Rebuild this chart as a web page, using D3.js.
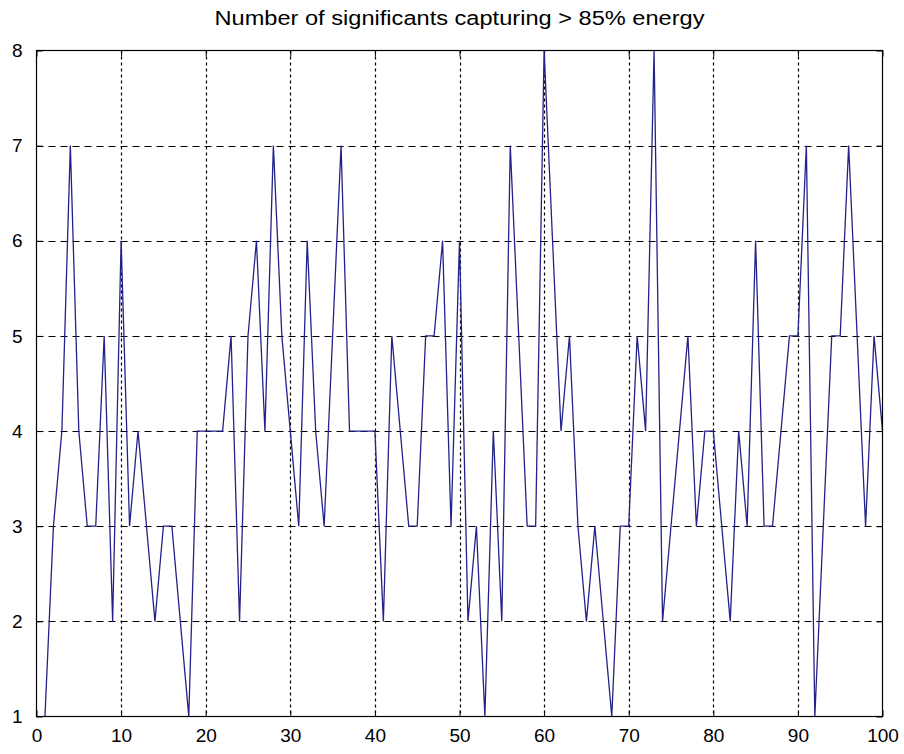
<!DOCTYPE html>
<html>
<head>
<meta charset="utf-8">
<script src="https://cdn.jsdelivr.net/npm/d3@7"></script>
<style>
  html, body { margin: 0; padding: 0; background: #ffffff; }
  svg { display: block; }
</style>
</head>
<body>
<svg id="chart" width="904" height="754"></svg>
<script>
// ---- data ----
const titleText = "Number of significants capturing > 85% energy";
const xValues = d3.range(1, 101);
const counts = [
  1, 3, 4, 7, 4, 3, 3, 5, 2, 6,
  3, 4, 3, 2, 3, 3, 2, 1, 4, 4,
  4, 4, 5, 2, 5, 6, 4, 7, 5, 4,
  3, 6, 4, 3, 5, 7, 4, 4, 4, 4,
  2, 5, 4, 3, 3, 5, 5, 6, 3, 6,
  2, 3, 1, 4, 2, 7, 5, 3, 3, 8,
  6, 4, 5, 3, 2, 3, 2, 1, 3, 3,
  5, 4, 8, 2, 3, 4, 5, 3, 4, 4,
  3, 2, 4, 3, 6, 3, 3, 4, 5, 5,
  7, 1, 3, 5, 5, 7, 5, 3, 5, 4
];
const xTicks = [0, 10, 20, 30, 40, 50, 60, 70, 80, 90, 100];
const yTicks = [1, 2, 3, 4, 5, 6, 7, 8];

// ---- layout ----
const svg = d3.select("#chart");
const pL = 36.5, pR = 882.5, pT = 50.5, pB = 716.5;
const x = d3.scaleLinear().domain([0, 100]).range([pL, pR]);
const y = d3.scaleLinear().domain([1, 8]).range([pB, pT]);
const font = "'Liberation Sans', Arial, sans-serif";

svg.append("rect").attr("width", 904).attr("height", 754).attr("fill", "#ffffff");

// grid
const grid = svg.append("g");
grid.selectAll("line.vg").data(xTicks.slice(1, -1)).join("line")
  .attr("x1", d => Math.round(x(d)) + 0.5).attr("x2", d => Math.round(x(d)) + 0.5)
  .attr("y1", pT).attr("y2", pB)
  .attr("stroke", "#000").attr("stroke-width", 1.2).attr("stroke-dasharray", "3,3");
grid.selectAll("line.hg").data(yTicks.slice(1, -1)).join("line")
  .attr("x1", pL).attr("x2", pR)
  .attr("y1", d => Math.round(y(d)) + 0.5).attr("y2", d => Math.round(y(d)) + 0.5)
  .attr("stroke", "#000").attr("stroke-width", 1.2).attr("stroke-dasharray", "7,5");

// axes (MATLAB-like: ticks inside, box)
const tickLen = 6;
const xAxisB = d3.axisBottom(x).tickValues(xTicks).tickFormat(d3.format("d"))
  .tickSizeInner(-tickLen).tickSizeOuter(0).tickPadding(12);
const xAxisT = d3.axisTop(x).tickValues(xTicks).tickSizeInner(-tickLen).tickSizeOuter(0).tickFormat("");
const yAxisL = d3.axisLeft(y).tickValues(yTicks).tickFormat(d3.format("d"))
  .tickSizeInner(-tickLen).tickSizeOuter(0).tickPadding(14);
const yAxisR = d3.axisRight(y).tickValues(yTicks).tickSizeInner(-tickLen).tickSizeOuter(0).tickFormat("");

function styleAxis(g) {
  g.select(".domain").remove();
  g.selectAll("line").attr("stroke", "#000").attr("stroke-width", 1);
  g.selectAll("text").attr("fill", "#000").style("font-family", font).style("font-size", "19px");
}
svg.append("g").attr("transform", `translate(0,${pB})`).call(xAxisB).call(styleAxis);
svg.append("g").attr("transform", `translate(0,${pT})`).call(xAxisT).call(styleAxis);
svg.append("g").attr("transform", `translate(${pL},0)`).call(yAxisL).call(styleAxis);
svg.append("g").attr("transform", `translate(${pR},0)`).call(yAxisR).call(styleAxis);

// data line
const line = d3.line().x((d, i) => x(xValues[i])).y(d => y(d));
svg.append("path").datum(counts)
  .attr("d", line)
  .attr("fill", "none")
  .attr("stroke", "#22228a")
  .attr("stroke-width", 1.3)
  .attr("stroke-linejoin", "miter");

// box
svg.append("rect")
  .attr("x", pL).attr("y", pT)
  .attr("width", pR - pL).attr("height", pB - pT)
  .attr("fill", "none").attr("stroke", "#000").attr("stroke-width", 1.2);

// title
svg.append("text")
  .attr("x", (pL + pR) / 2).attr("y", 25)
  .attr("text-anchor", "middle")
  .style("font-family", font).style("font-size", "20px")
  .attr("textLength", 490).attr("lengthAdjust", "spacingAndGlyphs")
  .attr("fill", "#000")
  .text(titleText);
</script>
</body>
</html>
